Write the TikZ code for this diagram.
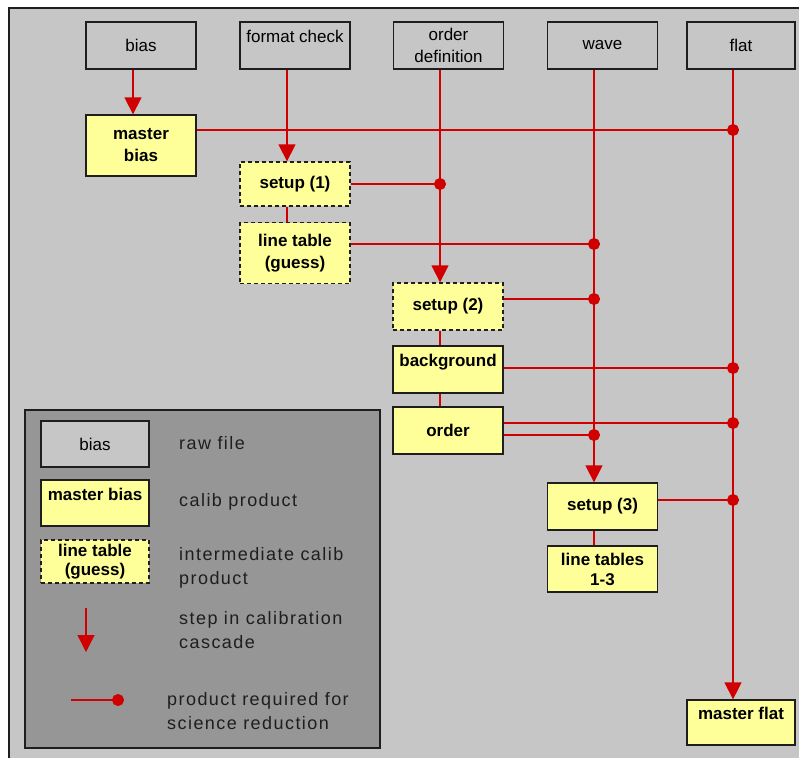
\documentclass[tikz,border=0pt]{standalone}
\usepackage{fontspec}
\setmainfont{Liberation Sans}
\newfontfamily\keyfont[LetterSpace=8]{Liberation Sans}
\usetikzlibrary{arrows.meta}
\definecolor{panelgray}{HTML}{C6C6C6}
\definecolor{keygray}{HTML}{969696}
\definecolor{calyellow}{HTML}{FFFF99}
\definecolor{stepred}{HTML}{D00000}
\definecolor{edgegray}{HTML}{1E1E1E}
\tikzset{
  flowbox/.style={draw=edgegray, line width=1.3pt, minimum width=110pt, minimum height=47pt,
    inner sep=2pt, align=center, font=\fontsize{17}{22}\selectfont},
  rawbox/.style={flowbox, fill=panelgray},
  calbox/.style={flowbox, fill=calyellow, font=\fontsize{17}{22}\selectfont\bfseries},
  midbox/.style={calbox, dash pattern=on 4pt off 3pt},
  toptext/.style={text depth=18pt},
  link/.style={draw=stepred, line width=1.3pt},
  stepar/.style={link, -{Triangle[width=17pt,length=17pt]}},
  req/.style={link, -{Circle[length=12pt]}, shorten >=-6pt},
  keytext/.style={anchor=west, align=left, inner sep=0pt, text=edgegray,
    font=\keyfont\fontsize{18}{24}\selectfont},
}
\begin{document}
\begin{tikzpicture}[x=1pt,y=-1pt]
	\useasboundingbox (0,0) rectangle (799,758);
	% panel
	\fill[panelgray] (9,8) rectangle (799,758);
	\draw[edgegray, line width=1.3pt] (9,758) -- (9,8) -- (799,8);
	% raw files
	\node[rawbox] (bias) at (141,45.5) {bias};
	\node[rawbox, toptext] (fmt) at (295,45.5) {format check};
	\node[rawbox] (orddef) at (448.5,45.5) {order\\definition};
	\node[rawbox] (wave) at (602.5,45.5) {wave};
	\node[rawbox, minimum width=108pt] (flat) at (741,45.5) {flat};
	% columns and rows of the red lines
	\coordinate (cbias) at (133,0);
	\coordinate (cfmt) at (287,0);
	\coordinate (cord) at (440,0);
	\coordinate (cwave) at (594,0);
	\coordinate (cflat) at (733,0);
	\coordinate (r1) at (0,130);
	\coordinate (r2) at (0,184);
	\coordinate (r3) at (0,244);
	\coordinate (r4) at (0,299);
	\coordinate (r5) at (0,368);
	\coordinate (r6) at (0,423);
	\coordinate (r7) at (0,435);
	\coordinate (r8) at (0,500);
	% products
	\node[calbox, minimum height=61pt] (mbias) at (141,145.5) {master\\bias};
	\node[midbox, minimum height=44pt] (setup1) at (295,184) {setup (1)};
	\node[midbox, minimum height=61pt] (ltguess) at (295,253) {line table\\(guess)};
	\node[midbox] (setup2) at (448,306.5) {setup (2)};
	\node[calbox, toptext] (backgr) at (448,369.5) {background};
	\node[calbox] (order) at (448,430.5) {order};
	\node[calbox] (setup3) at (602.5,506.5) {setup (3)};
	\node[calbox, minimum height=46pt] (lt13) at (602.5,569) {line tables\\[-2pt]1-3};
	\node[calbox, toptext, minimum width=108pt, minimum height=45pt] (mflat) at (741,722.5) {master flat};
	% cascade
	\draw[stepar] (cbias |- bias.south) -- (cbias |- mbias.north);
	\draw[stepar] (cfmt |- fmt.south) -- (cfmt |- setup1.north);
	\draw[stepar] (cord |- orddef.south) -- (cord |- setup2.north);
	\draw[stepar] (cwave |- wave.south) -- (cwave |- setup3.north);
	\draw[stepar] (cflat |- flat.south) -- (cflat |- mflat.north);
	\draw[link] (cfmt |- setup1.south) -- (cfmt |- ltguess.north);
	\draw[link] (cord |- setup2.south) -- (cord |- backgr.north);
	\draw[link] (cord |- backgr.south) -- (cord |- order.north);
	\draw[link] (cwave |- setup3.south) -- (cwave |- lt13.north);
	% required products
	\draw[req] (mbias.east |- r1) -- (cflat |- r1);
	\draw[req] (setup1.east |- r2) -- (cord |- r2);
	\draw[req] (ltguess.east |- r3) -- (cwave |- r3);
	\draw[req] (setup2.east |- r4) -- (cwave |- r4);
	\draw[req] (backgr.east |- r5) -- (cflat |- r5);
	\draw[req] (order.east |- r6) -- (cflat |- r6);
	\draw[req] (order.east |- r7) -- (cwave |- r7);
	\draw[req] (setup3.east |- r8) -- (cflat |- r8);
	% legend
	\node[draw=edgegray, line width=1.3pt, fill=keygray, minimum width=355pt, minimum height=338pt] (legend) at (202.5,579) {};
	\node[rawbox, minimum width=108pt, minimum height=46pt] (kraw) at (95,444) {bias};
	\node[calbox, toptext, minimum width=108pt, minimum height=46pt] (kcal) at (95,503) {master bias};
	\node[midbox, minimum width=108pt, minimum height=43pt] (kmid) at (95,561.5) {line table\\[-3pt](guess)};
	\coordinate (kstep1) at (86,608);
	\coordinate (kstep2) at (86,652);
	\draw[stepar] (kstep1) -- (kstep2);
	\coordinate (kreq1) at (71,700);
	\coordinate (kreq2) at (118,700);
	\draw[req] (kreq1) -- (kreq2);
	\node[keytext] (traw) at (179,443) {raw file};
	\node[keytext] (tcal) at (179,502) {calib product};
	\node[keytext] (tmid) at (179,568) {intermediate calib\\product};
	\node[keytext] (tstep) at (179,630) {step in calibration\\cascade};
	\node[keytext] (treq) at (167,711.5) {product required for\\science reduction};
\end{tikzpicture}
\end{document}
